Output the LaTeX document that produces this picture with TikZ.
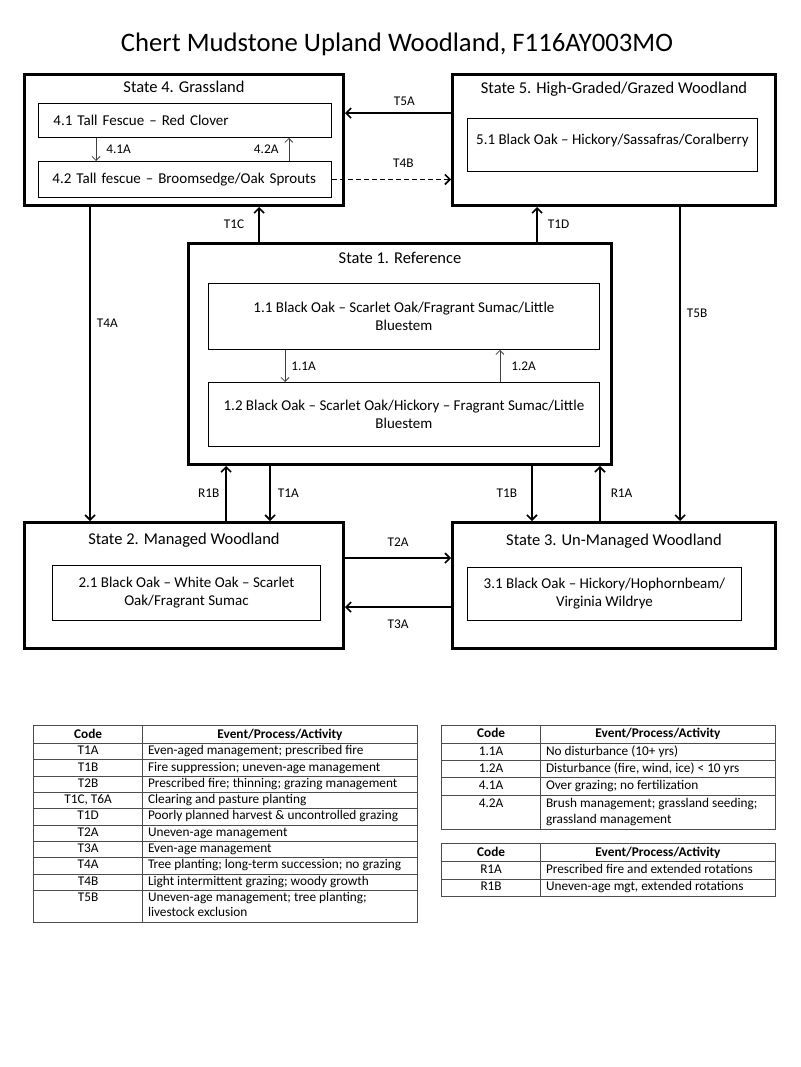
\documentclass[tikz,border=0pt]{standalone}
\usepackage{fontspec}
\setmainfont{Carlito}
\usepackage{tikz}
\usetikzlibrary{arrows.meta,positioning,calc}
\usepackage{array}
\usepackage{color, colortbl}

\newcommand{\chtitle}{\fontsize{26.7}{32}\selectfont}
\newcommand{\chstate}{\fontsize{16.5}{19}\selectfont}
\newcommand{\chcomm}{\fontsize{15}{18}\selectfont}
\newcommand{\chlbl}{\fontsize{13.3}{16}\selectfont}
\newcommand{\chtab}{\fontsize{13.3}{16.5}\selectfont}
\newcommand{\chtabT}{\fontsize{13.3}{15.4}\selectfont}

\begin{document}
\begin{tikzpicture}[->, >={Straight Barb[length=5pt,width=10pt]}, auto, x=1pt, y=-1pt]
\tikzstyle{stbox}=[draw=black, line width=2.8pt, minimum width=319pt, minimum height=131pt, inner sep=0pt]
\tikzstyle{stname}=[font=\chstate, inner sep=0pt]
\tikzstyle{comm}=[draw=black, line width=0.9pt, font=\chcomm, align=center, inner xsep=6pt, inner ysep=0pt, anchor=north west]
\tikzstyle{trans}=[line width=1.7pt]
\tikzstyle{pathw}=[line width=0.8pt, black!75, >={Straight Barb[length=4pt,width=8pt]}]
\tikzstyle{lbl}=[font=\chlbl, text=black, inner sep=2pt]
\path[-, fill=white, use as bounding box] (0,0) rectangle (800,1067);
\node[font=\chtitle] (title) at (397,44.5) {Chert Mudstone Upland Woodland, F116AY003MO};
% states
\node[stbox]                                            (S4) at (184,140)   {};
\node[stbox, minimum width=323pt]                       (S5) at (614,140)   {};
\node[stbox, minimum width=423pt, minimum height=221pt] (S1) at (400,354)   {};
\node[stbox, minimum height=126pt]                      (S2) at (184,585.5) {};
\node[stbox, minimum width=323pt, minimum height=126pt] (S3) at (614,585.5) {};
\node[stname] (S4t) [below=8pt of S4.north]  {State 4. Grassland};
\node[stname] (S5t) [below=9pt of S5.north]  {State 5. High-Graded/Grazed Woodland};
\node[stname] (S1t) [below=10pt of S1.north] {State 1. Reference};
\node[stname] (S2t) [below=12pt of S2.north] {State 2. Managed Woodland};
\node[stname] (S3t) [below=13pt of S3.north] {State 3. Un-Managed Woodland};
% communities
\node[comm, text width=263pt, align=left, inner xsep=15pt, minimum height=34pt] (P41) at (38,103) {4.1 Tall Fescue – Red Clover};
\node[comm, text width=265pt, align=left, inner xsep=14pt, minimum height=36pt] (P42) at (38,161) {4.2 Tall fescue – Broomsedge/Oak Sprouts};
\node[comm, minimum width=290pt, minimum height=53pt, text depth=12pt] (P51) at (467,118) {5.1 Black Oak – Hickory/Sassafras/Coralberry};
\node[comm, minimum width=391pt, minimum height=66pt] (P11) at (208,283) {1.1 Black Oak – Scarlet Oak/Fragrant Sumac/Little\\Bluestem};
\node[comm, minimum width=391pt, minimum height=64pt] (P12) at (208,382) {1.2 Black Oak – Scarlet Oak/Hickory – Fragrant Sumac/Little\\Bluestem};
\node[comm, minimum width=268pt, minimum height=55pt] (P21) at (52,565)  {2.1 Black Oak – White Oak – Scarlet\\Oak/Fragrant Sumac};
\node[comm, minimum width=274pt, minimum height=53pt] (P31) at (467,567) {3.1 Black Oak – Hickory/Hophornbeam/\\Virginia Wildrye};
% arrow spots
\coordinate (a5a) at ([yshift=-40pt]S5.north west);
\coordinate (a4b) at (P42.east);
\coordinate (a1c) at ([xshift=72pt]S1.north west);
\coordinate (a1d) at ([xshift=350pt]S1.north west);
\coordinate (a4a) at ([xshift=67pt]S4.south west);
\coordinate (a5b) at ([xshift=229pt]S5.south west);
\coordinate (r1b) at ([xshift=39pt]S1.south west);
\coordinate (a1a) at ([xshift=83pt]S1.south west);
\coordinate (a1b) at ([xshift=-81pt]S1.south east);
\coordinate (r1a) at ([xshift=-13pt]S1.south east);
\coordinate (a2a) at ([yshift=-37pt]S2.north east);
\coordinate (a3a) at ([yshift=-86pt]S2.north east);
\coordinate (p41a) at ([xshift=58pt]P41.south west);
\coordinate (p42a) at ([xshift=-43pt]P41.south east);
\coordinate (p11a) at ([xshift=77pt]P11.south west);
\coordinate (p12a) at ([xshift=-100pt]P11.south east);
\path[trans]
(a5a)            edge                             node[lbl, above=5pt, pos=0.44]{T5A} (a5a -| S4.east)
(a4b)            edge[dash pattern=on 5pt off 3pt] node[lbl, above=9pt, pos=0.6]{T4B} (a4b -| S5.west)
(a1c)            edge                             node[lbl, left=12pt]{T1C}           (a1c |- S4.south)
(a1d)            edge                             node[lbl, right=8pt]{T1D}           (a1d |- S5.south)
(a4a)            edge                             node[lbl, right=4pt, pos=0.37]{T4A} (a4a |- S2.north)
(a5b)            edge                             node[lbl, right=4pt, pos=0.34]{T5B} (a5b |- S3.north)
%
(r1b |- S2.north) edge                            node[lbl, left=4pt]{R1B}            (r1b)
(a1a)            edge                             node[lbl, right=5pt]{T1A}           (a1a |- S2.north)
(a1b)            edge                             node[lbl, left=12pt]{T1B}           (a1b |- S3.north)
(r1a |- S3.north) edge                            node[lbl, right=8pt]{R1A}           (r1a)
%
(a2a)            edge                             node[lbl, above=9pt]{T2A}           (a2a -| S3.west)
(a3a -| S3.west) edge                             node[lbl, below=10pt]{T3A}          (a3a);
\path[pathw]
(p41a)            edge node[lbl, right=8pt]{4.1A} (p41a |- P42.north)
(p42a |- P42.north) edge node[lbl, left=8pt]{4.2A}  (p42a)
(p11a)            edge node[lbl, right=4pt]{1.1A} (p11a |- P12.north)
(p12a |- P12.north) edge node[lbl, right=9pt]{1.2A} (p12a);
% tables
\node[anchor=north west, inner sep=0pt] (tabT) at (33,725) {\chtabT
\arrayrulecolor{black!70}\setlength{\arrayrulewidth}{0.9pt}\setlength{\tabcolsep}{5pt}%
\begin{tabular}{|>{\centering\arraybackslash}p{98pt}|>{\raggedright\arraybackslash}p{264pt}|}
\hline
\rule[-5pt]{0pt}{17pt}\textbf{Code} & \multicolumn{1}{c|}{\textbf{Event/Process/Activity}}\\ \hline
T1A & Even-aged management; prescribed fire\\ \hline
T1B & Fire suppression; uneven-age management\\ \hline
T2B & Prescribed fire; thinning; grazing management\\ \hline
T1C, T6A & Clearing and pasture planting\\ \hline
T1D & Poorly planned harvest \& uncontrolled grazing\\ \hline
T2A & Uneven-age management\\ \hline
T3A & Even-age management\\ \hline
T4A & Tree planting; long-term succession; no grazing\\ \hline
T4B & Light intermittent grazing; woody growth\\ \hline
T5B & Uneven-age management; tree planting;\newline livestock exclusion\\ \hline
\end{tabular}};
\node[anchor=north west, inner sep=0pt] (tabC) at (441,725) {\chtab
\arrayrulecolor{black!70}\setlength{\arrayrulewidth}{0.9pt}\setlength{\tabcolsep}{5pt}%
\begin{tabular}{|>{\centering\arraybackslash}p{88pt}|>{\raggedright\arraybackslash}p{224pt}|}
\hline
\textbf{Code} & \multicolumn{1}{c|}{\textbf{Event/Process/Activity}}\\ \hline
1.1A & No disturbance (10+ yrs)\\ \hline
1.2A & Disturbance (fire, wind, ice) < 10 yrs\\ \hline
4.1A & Over grazing; no fertilization\\ \hline
4.2A & Brush management; grassland seeding;\newline grassland management\\ \hline
\end{tabular}};
\node[anchor=north west, inner sep=0pt] (tabR) at (441,843) {\chtab
\arrayrulecolor{black!70}\setlength{\arrayrulewidth}{0.9pt}\setlength{\tabcolsep}{5pt}%
\begin{tabular}{|>{\centering\arraybackslash}p{88pt}|>{\raggedright\arraybackslash}p{224pt}|}
\hline
\rule[-5pt]{0pt}{17pt}\textbf{Code} & \multicolumn{1}{c|}{\textbf{Event/Process/Activity}}\\ \hline
R1A & Prescribed fire and extended rotations\\ \hline
R1B & Uneven-age mgt, extended rotations\\ \hline
\end{tabular}};
\end{tikzpicture}
\end{document}
